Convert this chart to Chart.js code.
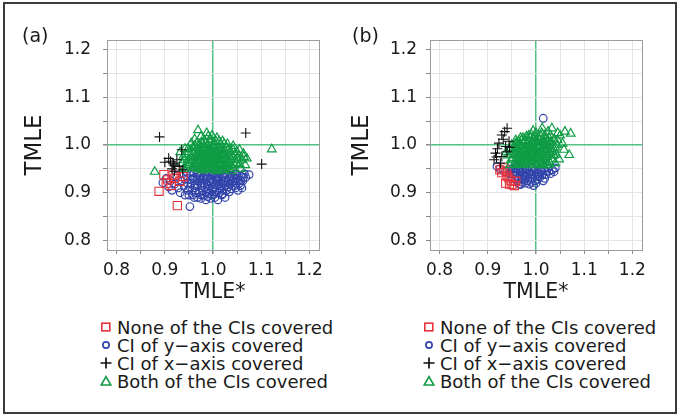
<!DOCTYPE html>
<html>
<head>
<meta charset="utf-8">
<script src="https://cdn.jsdelivr.net/npm/chart.js@4/dist/chart.umd.min.js"></script>
<style>
  html, body { margin: 0; padding: 0; background: #fff; }
  #wrap { position: relative; width: 681px; height: 418px; overflow: hidden; font-family: "DejaVu Sans", sans-serif; color: #1a1a1a; }
  #frame { position: absolute; left: 3px; top: 2px; width: 670px; height: 408px; border: 2px solid #3c3c3c; }
  canvas { position: absolute; top: 0; }
  .panel { position: absolute; font-size: 19px; line-height: 19px; top: 26px; }
  .legend { position: absolute; top: 319px; font-size: 18px; line-height: 18px; }
  .row { position: relative; height: 18px; white-space: nowrap; }
  .row svg { position: absolute; left: 0; top: 1px; }
  .row span { position: absolute; left: 18px; top: 0; }
</style>
</head>
<body>
<div id="wrap">
  <div id="frame"></div>
  <canvas id="ca" width="340" height="310" style="left:0px"></canvas>
  <canvas id="cb" width="330" height="310" style="left:340px"></canvas>
  <div class="panel" id="labA" style="left:22px"></div>
  <div class="panel" id="labB" style="left:352px"></div>
  <div class="legend" id="legA" style="left:99px"></div>
  <div class="legend" id="legB" style="left:422px"></div>
</div>
<script>
// ---------------- data ----------------
const panelLabels = ['(a)', '(b)'];
const seriesNames = ['None of the CIs covered', 'CI of y\u2212axis covered', 'CI of x\u2212axis covered', 'Both of the CIs covered'];
const xTitle = 'TMLE*';
const yTitle = 'TMLE';
const tickValues = [0.8, 0.85, 0.9, 0.95, 1.0, 1.05, 1.1, 1.15, 1.2];
const tickLabels = ['0.8', '', '0.9', '', '1.0', '', '1.1', '', '1.2'];
const refValue = 1.0;

// Panel (a)
const aNone = [[0.888,0.903],[0.926,0.873],[0.898,0.938],[0.906,0.927],[0.917,0.937],[0.913,0.915],[0.931,0.924],[0.924,0.947],[0.938,0.934],[0.903,0.920],[0.920,0.930]];
const aYcov = [[0.952,0.871],[0.896,0.921],[0.903,0.930],[0.908,0.912],[0.915,0.905],[0.920,0.918],[0.928,0.910],[0.932,0.900],[0.935,0.925],[0.940,0.915],[0.945,0.935],[0.948,0.905],[0.950,0.895],[0.955,0.920],[0.958,0.930],[0.960,0.942],[0.962,0.910],[0.965,0.900],[0.968,0.890],[0.970,0.925],[0.972,0.935],[0.975,0.915],[0.978,0.905],[0.980,0.895],[0.982,0.940],[0.985,0.928],[0.988,0.918],[0.990,0.908],[0.992,0.898],[0.995,0.888],[0.998,0.935],[1.000,0.922],[1.003,0.912],[1.005,0.902],[1.008,0.940],[1.010,0.930],[1.012,0.918],[1.015,0.908],[1.018,0.895],[1.020,0.935],[1.022,0.925],[1.025,0.915],[1.028,0.905],[1.030,0.940],[1.033,0.930],[1.035,0.918],[1.038,0.908],[1.040,0.935],[1.042,0.925],[1.045,0.915],[1.048,0.940],[1.050,0.930],[1.055,0.920],[1.058,0.935],[1.062,0.925],[1.068,0.932],[1.075,0.938],[1.060,0.910],[1.052,0.905],[1.025,0.890],[1.010,0.885],[0.985,0.885],[0.975,0.888],[0.958,0.895],[0.945,0.945],[0.938,0.940],[0.925,0.935],[0.963,0.948],[0.975,0.945],[0.992,0.945],[1.000,0.940],[1.015,0.945],[1.042,0.945],[1.005,0.930],[0.995,0.915],[0.980,0.930],[0.968,0.918],[0.952,0.912],[0.990,0.935],[1.020,0.920],[1.032,0.912],[0.912,0.925],[0.942,0.895],[1.048,0.920],[1.065,0.940],
  [0.962,0.930],[0.967,0.938],[0.973,0.928],[0.977,0.920],[0.983,0.912],[0.986,0.902],[0.993,0.925],[0.997,0.905],[1.002,0.896],[1.006,0.918],[1.009,0.924],[1.013,0.935],[1.016,0.915],[1.019,0.905],[1.023,0.932],[1.027,0.922],[1.031,0.925],[1.036,0.935],[1.039,0.920],[1.044,0.930],[1.047,0.910],[1.053,0.925],[1.057,0.915],[0.957,0.905],[0.963,0.915],[0.971,0.900],[0.976,0.895],[0.989,0.892],[1.004,0.890],[1.013,0.900],[1.021,0.898],[1.034,0.902],[0.981,0.920],[0.996,0.928],[1.000,0.908],[0.987,0.935],[0.966,0.928],[0.953,0.928],[0.947,0.920],[0.942,0.928],[1.026,0.940],[1.011,0.942],[0.985,0.945],[0.970,0.942],[1.058,0.925],[1.063,0.932],[1.046,0.938],[0.961,0.890],[0.998,0.896],[1.017,0.925]];
const aXcov = [[0.889,1.017],[1.068,1.025],[1.101,0.960],[0.935,0.990],[0.900,0.964],[0.912,0.966],[0.917,0.962],[0.925,0.969],[0.915,0.950],[0.921,0.956],[0.930,0.955],[0.908,0.972],[0.920,0.945],[0.937,0.948],[0.918,0.958]];
const aBoth = [[0.969,1.031],[0.987,1.025],[0.975,1.018],[0.962,1.012],[0.955,1.004],[0.982,1.010],[0.995,1.012],[1.008,1.015],[1.020,1.008],[1.030,1.002],[1.042,0.998],[1.055,0.990],[1.063,0.982],[1.070,0.972],[1.067,0.958],[1.058,0.950],[1.122,0.991],[0.879,0.944],[0.942,0.992],[0.938,0.975],[0.935,0.962],[0.945,0.955],[0.950,0.985],[0.958,0.995],[0.965,0.990],[0.972,1.000],[0.980,0.995],[0.990,1.000],[1.000,0.998],[1.010,0.995],[1.018,0.992],[1.025,0.988],[1.035,0.985],[1.045,0.980],[1.052,0.972],[1.048,0.962],[1.040,0.955],[1.032,0.950],[1.022,0.948],[1.012,0.946],[1.000,0.948],[0.990,0.950],[0.978,0.947],[0.968,0.950],[0.958,0.952],[0.948,0.968],[0.955,0.975],[0.962,0.965],[0.970,0.972],[0.975,0.960],[0.982,0.968],[0.985,0.980],[0.992,0.972],[0.998,0.962],[1.002,0.975],[1.008,0.968],[1.012,0.980],[1.018,0.962],[1.025,0.972],[1.030,0.960],[1.038,0.970],[1.042,0.990],[0.960,0.982],[0.968,0.978],[0.978,0.985],[0.988,0.988],[0.995,0.985],[1.005,0.988],[1.015,0.975],[1.020,0.982],[0.980,0.958],[0.988,0.960],[0.995,0.955],[1.005,0.958],[1.015,0.955],[1.028,0.955],[0.972,0.955],[0.965,0.958],[0.952,0.962],[0.944,0.980],[0.976,1.006],[0.990,1.018],[1.002,1.005],[1.015,1.000],[0.966,1.004],[0.985,1.003],[1.050,0.985],[1.060,0.968],[1.035,0.975],[1.028,0.995],[0.998,0.970],[0.992,0.965],[0.985,0.975],[1.008,0.962],[0.975,0.975],[0.962,0.998],[0.950,0.958],[1.045,0.958],[1.055,0.960],[1.000,0.982],[1.010,0.990],[0.970,0.985],[0.940,0.950],[0.932,0.985],[0.948,0.992],[0.998,1.020],[1.038,0.945],[1.018,0.948],
  [0.978,0.962],[0.983,0.955],[0.987,0.970],[0.993,0.958],[0.996,0.978],[1.001,0.966],[1.004,0.952],[1.007,0.980],[1.011,0.958],[1.013,0.970],[1.016,0.988],[1.019,0.968],[1.023,0.958],[1.026,0.980],[1.031,0.968],[1.034,0.958],[0.973,0.968],[0.968,0.962],[0.963,0.975],[0.958,0.968],[0.981,0.976],[0.986,0.990],[0.991,0.982],[0.994,0.993],[0.999,0.987],[1.003,0.993],[1.006,0.972],[1.009,0.985],[1.021,0.975],[1.024,0.965],[0.976,0.952],[0.984,0.948],[0.997,0.950],[1.009,0.951],[1.021,0.953],[1.036,0.962],[1.041,0.976],[1.046,0.968],[0.953,0.968],[0.957,0.985],[0.967,0.994],[0.973,0.992],[0.979,1.002],[0.994,1.005],[1.006,1.008],[1.013,1.008],[1.023,1.002],[1.033,0.992],[0.989,0.975],[0.997,0.966],[1.002,0.958],[0.983,0.962],[1.014,0.962],[1.028,0.975],[0.971,0.978],[0.989,0.956],[1.008,0.945],[1.053,0.978],[1.064,0.975],[0.946,0.962],[0.941,0.968],[0.961,0.955],[1.017,0.980],[0.993,0.990],[0.977,0.980]];

// Panel (b)
const bNone = [[0.929,0.942],[0.937,0.920],[0.950,0.917],[0.944,0.931],[0.958,0.924],[0.933,0.952],[0.940,0.935],[0.948,0.925],[0.955,0.915],[0.938,0.945],[0.945,0.918],[0.925,0.948]];
const bYcov = [[1.015,1.056],[0.919,0.955],[0.925,0.950],[0.935,0.945],[0.945,0.940],[0.950,0.930],[0.955,0.945],[0.960,0.935],[0.962,0.925],[0.965,0.918],[0.968,0.945],[0.972,0.938],[0.975,0.928],[0.978,0.920],[0.982,0.948],[0.985,0.940],[0.988,0.930],[0.990,0.922],[0.995,0.945],[0.998,0.935],[1.000,0.920],[1.003,0.928],[1.006,0.940],[1.010,0.948],[1.0125,0.9375],[1.018,0.930],[1.022,0.945],[1.030,0.940],[1.0375,0.944],[1.040,0.952],[0.971,0.958],[0.958,0.952],[0.992,0.952],[1.015,0.925],[0.968,0.917],[0.980,0.935],[0.952,0.938],[0.945,0.950],[1.025,0.952],[0.995,0.915],
  [0.958,0.942],[0.963,0.948],[0.967,0.938],[0.970,0.930],[0.973,0.948],[0.977,0.942],[0.983,0.925],[0.986,0.945],[0.990,0.940],[0.993,0.930],[0.997,0.948],[1.001,0.940],[1.004,0.948],[1.008,0.932],[1.011,0.944],[1.016,0.950],[1.020,0.938],[0.976,0.935],[0.980,0.950],[0.964,0.930],[0.957,0.928],[0.948,0.945],[0.986,0.918],[1.004,0.935],[0.971,0.922],[1.027,0.945],[1.034,0.948],[0.952,0.950],[0.998,0.925],[0.962,0.955]];
const bXcov = [[0.940,1.035],[0.929,1.021],[0.916,0.983],[0.923,1.004],[0.937,0.997],[0.913,0.969],[0.929,0.976],[0.940,0.986],[0.935,1.028],[0.920,0.992],[0.932,1.012],[0.918,0.975],[0.944,1.008],[0.926,0.962],[0.945,0.995]];
const bBoth = [[1.072,1.024],[1.069,0.979],[1.055,1.003],[1.033,1.035],[1.013,1.035],[1.050,1.020],[1.045,1.010],[1.040,0.995],[1.042,0.980],[1.035,0.970],[1.030,1.020],[1.025,1.028],[1.000,1.025],[0.990,1.022],[0.980,1.018],[0.968,1.015],[0.958,1.010],[0.950,1.000],[0.945,0.990],[0.942,0.978],[0.948,0.968],[0.955,0.960],[0.962,0.958],[0.972,0.960],[0.980,0.962],[0.990,0.965],[1.000,0.962],[1.010,0.960],[1.020,0.962],[1.028,0.965],[1.035,0.985],[1.030,1.005],[1.020,1.012],[1.010,1.018],[0.995,1.012],[0.985,1.008],[0.975,1.005],[0.965,1.000],[0.958,0.992],[0.955,0.980],[0.960,0.972],[0.968,0.978],[0.975,0.985],[0.980,0.992],[0.988,0.998],[0.995,1.000],[1.002,1.005],[1.008,1.000],[1.015,0.995],[1.022,0.990],[1.028,0.985],[1.022,0.975],[1.015,0.970],[1.008,0.975],[1.000,0.980],[0.992,0.985],[0.985,0.978],[0.978,0.972],[0.970,0.968],[0.985,0.968],[0.995,0.972],[1.005,0.968],[1.012,0.985],[1.018,1.002],[1.000,0.992],[0.990,0.990],[0.982,0.982],[0.975,0.995],[0.965,0.988],[0.970,1.010],[1.005,1.015],[1.025,0.998],[1.032,0.992],[1.038,1.012],[0.952,0.985],[0.960,1.005],[0.998,0.988],[1.010,0.990],[0.992,0.978],[0.978,0.962],[1.018,0.985],[0.988,1.015],[1.045,1.025],[0.962,0.965],[0.946,0.958],[1.040,0.962],[1.026,1.008],[0.972,0.990],[1.004,0.998],[0.994,1.030],[0.938,0.985],[1.060,1.028],[1.058,0.990],[1.048,0.970],
  [0.982,0.975],[0.987,0.985],[0.993,0.980],[0.997,0.995],[1.002,0.985],[1.006,0.992],[1.011,0.978],[1.014,1.005],[0.977,0.988],[0.972,0.975],[0.967,0.982],[0.963,0.992],[0.969,0.998],[0.983,1.000],[0.991,1.006],[0.998,1.008],[1.007,1.010],[1.016,1.010],[1.021,1.000],[1.024,0.982],[1.019,0.972],[1.013,0.965],[1.004,0.975],[0.996,0.962],[0.988,0.972],[0.976,0.968],[0.966,0.970],[0.959,0.980],[0.961,0.995],[0.973,1.015],[0.985,1.020],[0.997,1.018],[1.012,1.025],[1.027,1.015],[1.033,1.000],[1.031,0.978],[0.951,0.972],[0.955,0.990],[0.948,0.980],[0.982,0.965],[0.994,0.968],[1.002,0.972],[1.009,0.966],[1.016,0.980],[0.979,0.980],[0.986,0.992],[0.990,0.995],[1.001,1.000],[1.008,0.984],[0.971,0.985],[0.964,1.008],[0.957,1.002],[0.978,1.010],[1.018,1.020],[1.038,0.990],[1.043,1.000],[1.037,0.978],[0.968,0.962],[0.985,0.958],[1.001,0.958],[1.015,0.958],[1.026,0.958]];

// ---------------- styling ----------------
const COLORS = { none: '#e5333c', ycov: '#3143aa', xcov: '#111111', both: '#0f9c45' };
const REF_COLOR = '#52c283';
const GRID_COLOR = '#e2e5ea';
const FONT = '"DejaVu Sans", sans-serif';

const toXY = arr => arr.map(p => ({ x: p[0], y: p[1] }));

function datasets(none, ycov, xcov, both) {
  return [
    { label: seriesNames[0], data: toXY(none), pointStyle: 'rect', pointRadius: 5.8, borderColor: COLORS.none, backgroundColor: 'rgba(0,0,0,0)', pointBorderWidth: 1.1, order: 2 },
    { label: seriesNames[1], data: toXY(ycov), pointStyle: 'circle', pointRadius: 3.8, borderColor: COLORS.ycov, backgroundColor: 'rgba(0,0,0,0)', pointBorderWidth: 1.2, order: 3 },
    { label: seriesNames[2], data: toXY(xcov), pointStyle: 'cross', pointRadius: 5, borderColor: COLORS.xcov, backgroundColor: 'rgba(0,0,0,0)', pointBorderWidth: 1.1, order: 0 },
    { label: seriesNames[3], data: toXY(both), pointStyle: 'triangle', pointRadius: 5, borderColor: COLORS.both, backgroundColor: 'rgba(0,0,0,0)', pointBorderWidth: 1.2, order: 1 }
  ];
}

const frameBox = {
  id: 'frameBox',
  afterDatasetsDraw(chart) {
    const a = chart.chartArea, ctx = chart.ctx;
    ctx.save();
    ctx.strokeStyle = '#9c9c9c';
    ctx.lineWidth = 1;
    ctx.strokeRect(Math.round(a.left) + 0.5, Math.round(a.top) + 0.5, Math.round(a.right - a.left), Math.round(a.bottom - a.top));
    ctx.restore();
  }
};

function axis(isX, cfg) {
  return {
    type: 'linear',
    position: isX ? 'bottom' : 'left',
    min: 0.78, max: 1.22,
    afterBuildTicks: s => { s.ticks = tickValues.map(v => ({ value: v })); },
    afterFit: s => { if (isX) s.height = 60; else s.width = cfg.yWidth; },
    border: { display: false },
    grid: {
      drawTicks: true,
      tickLength: 4,
      tickColor: '#8a8a8a',
      color: c => (c.tick && Math.abs(c.tick.value - refValue) < 1e-9) ? REF_COLOR : GRID_COLOR,
      lineWidth: c => (c.tick && Math.abs(c.tick.value - refValue) < 1e-9) ? 1.5 : 1
    },
    ticks: {
      autoSkip: false, maxRotation: 0, minRotation: 0,
      color: '#1a1a1a',
      font: { family: FONT, size: 17 },
      padding: isX ? 6 : cfg.yPad,
      callback: (v, i) => tickLabels[i]
    },
    title: {
      display: true,
      text: isX ? xTitle : yTitle,
      color: '#1a1a1a',
      font: { family: FONT, size: isX ? 20.5 : 23, lineHeight: 1 },
      padding: isX ? { top: 0, bottom: 6.7 } : { top: cfg.yTitlePad, bottom: 0 }
    }
  };
}

function makeChart(id, ds, cfg) {
  return new Chart(document.getElementById(id), {
    type: 'scatter',
    data: { datasets: ds },
    options: {
      responsive: false, animation: false, devicePixelRatio: 1,
      layout: { padding: { left: 0, top: 40, right: cfg.padRight, bottom: 0 } },
      plugins: { legend: { display: false }, tooltip: { enabled: false } },
      scales: { x: axis(true, cfg), y: axis(false, cfg) }
    },
    plugins: [frameBox]
  });
}

makeChart('ca', datasets(aNone, aYcov, aXcov, aBoth), { yWidth: 107, yPad: 12, yTitlePad: 24, padRight: 21 });
makeChart('cb', datasets(bNone, bYcov, bXcov, bBoth), { yWidth: 90, yPad: 9, yTitlePad: 10.5, padRight: 28 });

document.getElementById('labA').textContent = panelLabels[0];
document.getElementById('labB').textContent = panelLabels[1];

const icons = [
  `<svg width="14" height="14"><rect x="2.8" y="3.2" width="8" height="7.6" fill="none" stroke="${COLORS.none}" stroke-width="1.6"/></svg>`,
  `<svg width="14" height="14"><circle cx="7" cy="7" r="3.1" fill="none" stroke="${COLORS.ycov}" stroke-width="1.7"/></svg>`,
  `<svg width="14" height="14"><path d="M1.5 7 H12.5 M7 1.5 V12.5" stroke="${COLORS.xcov}" stroke-width="1.7"/></svg>`,
  `<svg width="14" height="14"><path d="M7 2.6 L11.8 11 L2.2 11 Z" fill="none" stroke="${COLORS.both}" stroke-width="1.6"/></svg>`
];
function buildLegend(id) {
  const el = document.getElementById(id);
  seriesNames.forEach((name, i) => {
    const row = document.createElement('div');
    row.className = 'row';
    row.innerHTML = icons[i];
    const sp = document.createElement('span');
    sp.textContent = name;
    row.appendChild(sp);
    el.appendChild(row);
  });
}
buildLegend('legA');
buildLegend('legB');
</script>
</body>
</html>
